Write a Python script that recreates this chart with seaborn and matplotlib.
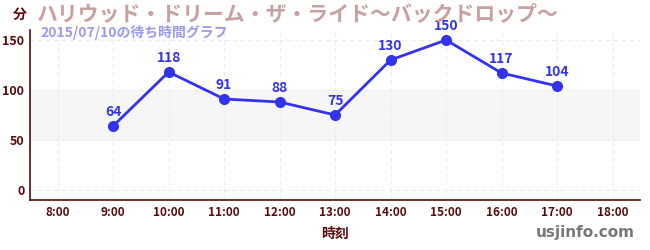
import matplotlib
matplotlib.use("Agg")
import matplotlib.pyplot as plt
import seaborn as sns
import pandas as pd

hours = [9, 10, 11, 12, 13, 14, 15, 16, 17]
waits = [64, 118, 91, 88, 75, 130, 150, 117, 104]
xtick_hours = [8, 9, 10, 11, 12, 13, 14, 15, 16, 17, 18]
xtick_labels = [f"{h}:00" for h in xtick_hours]
yticks = [0, 50, 100, 150]
title = "ハリウッド・ドリーム・ザ・ライド〜バックドロップ〜"
subtitle = "2015/07/10の待ち時間グラフ"

sns.set_style("white")
plt.rcParams['font.family'] = ['Noto Sans CJK JP', 'DejaVu Sans']

df = pd.DataFrame({"hour": hours, "wait": waits})
fig = plt.figure(figsize=(6.5, 2.5), dpi=100)
ax = fig.add_axes([0.046, 0.2, 0.939, 0.68])

dark = "#5a0a0a"
line_c = "#3333ee"

ax.axhspan(50, 100, color="#f6f6f6", zorder=0)
for h in xtick_hours:
    ax.axvline(h, color="#ececec", lw=0.8, ls=(0, (4, 3)), zorder=0.5)
for y in yticks:
    ax.axhline(y, color="#ececec", lw=0.8, ls=(0, (4, 3)), zorder=0.5)

sns.lineplot(data=df, x="hour", y="wait", ax=ax, color=line_c, lw=2,
             marker="o", markersize=8, markeredgewidth=0, zorder=3)
for h, w in zip(hours, waits):
    ax.annotate(str(w), (h, w), xytext=(0, 5), textcoords="offset points",
                ha="center", va="bottom", color=line_c, fontsize=10,
                fontweight="bold", zorder=4)

ax.set_xlim(7.5, 18.5)
ax.set_ylim(-10, 160)
ax.set_xticks(xtick_hours)
ax.set_xticklabels(xtick_labels, fontsize=8.5, color=dark, fontweight="bold")
ax.set_yticks(yticks)
ax.set_yticklabels([str(y) for y in yticks], fontsize=9, color=dark, fontweight="bold")
ax.set_yticks([25, 75, 125], minor=True)
ax.tick_params(axis="y", which="minor", length=3, color="#dd2222", width=1)
ax.tick_params(axis="both", which="major", length=4, color=dark, width=1, pad=2)
ax.tick_params(axis="both", which="both", direction="inout")
for s in ["top", "right"]:
    ax.spines[s].set_visible(False)
for s in ["left", "bottom"]:
    ax.spines[s].set_color(dark)
    ax.spines[s].set_linewidth(1.2)
ax.set_xlabel("時刻", fontsize=10, color=dark, fontweight="bold", labelpad=6)
ax.set_ylabel("")

fig.text(20 / 650, 1 - 15 / 250, "分", fontsize=10, color=dark, fontweight="bold",
         ha="center", va="center")
fig.text(37 / 650, 1 - 14 / 250, title, fontsize=15, color="#c9a0a0",
         fontweight="bold", ha="left", va="center")
fig.text(40 / 650, 1 - 32 / 250, subtitle, fontsize=10, color="#9a9af0",
         fontweight="bold", ha="left", va="center")
fig.text(635 / 650, 1 - 233 / 250, "usjinfo.com", fontsize=11, color="#777777",
         fontweight="bold", ha="right", va="center", family=["DejaVu Sans"])

fig.savefig("out.png", dpi=100)
